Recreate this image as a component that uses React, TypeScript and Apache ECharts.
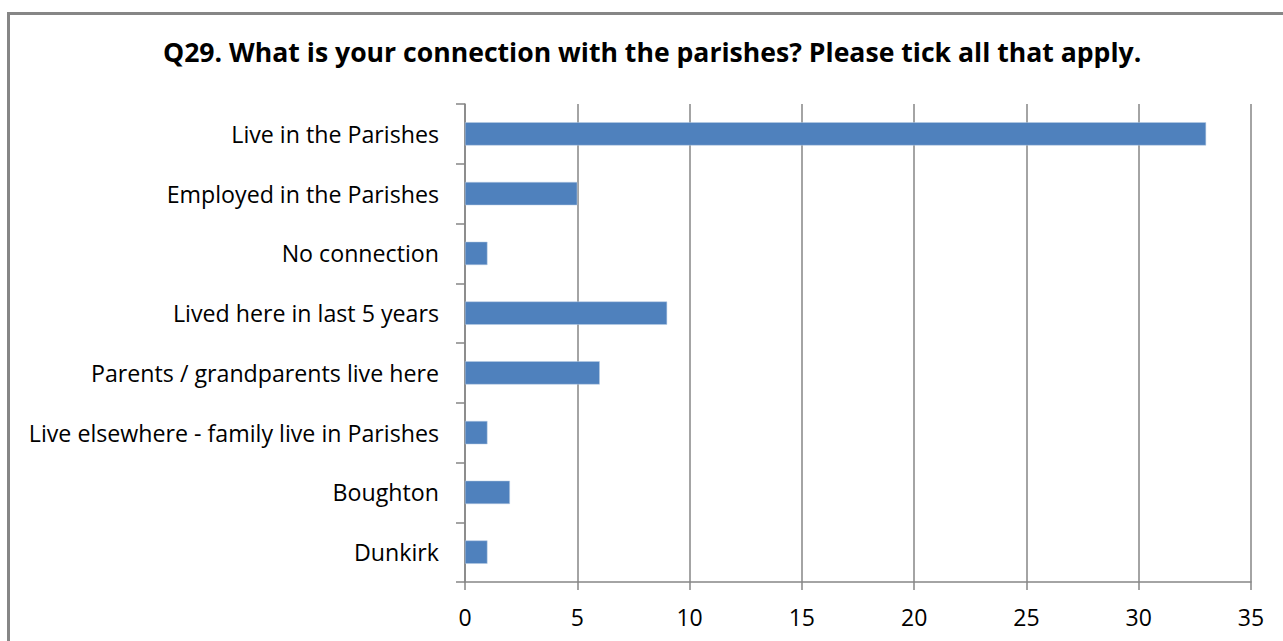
import React, { useEffect, useRef } from "react";
import * as echarts from "echarts";

// Survey responses for Q29 (multiple choice, tick all that apply)
const categories = [
  "Live in the Parishes",
  "Employed in the Parishes",
  "No connection",
  "Lived here in last 5 years",
  "Parents / grandparents live here",
  "Live elsewhere - family live in Parishes",
  "Boughton",
  "Dunkirk",
];
const responses = [33, 5, 1, 9, 6, 1, 2, 1];
const titleText = "Q29. What is your connection with the parishes? Please tick all that apply.";
const axisMax = 35;
const axisStep = 5;

const FONT = "'Open Sans', 'Noto Sans', sans-serif";
const GRAY = "#868686";

export default function App() {
  const ref = useRef<HTMLDivElement>(null);

  useEffect(() => {
    document.body.style.margin = "0";
    if (!ref.current) return;
    const chart = echarts.init(ref.current, undefined, { renderer: "svg" });
    chart.setOption({
      animation: false,
      backgroundColor: "#ffffff",
      title: {
        text: titleText,
        left: 163,
        top: 38,
        padding: 0,
        textStyle: {
          fontFamily: FONT,
          fontWeight: "bold",
          fontSize: 26.6,
          color: "#000000",
        },
      },
      graphic: [
        {
          type: "rect",
          shape: { x: 8.5, y: 13.5, width: 1400, height: 800 },
          style: { fill: "none", stroke: GRAY, lineWidth: 3 },
          silent: true,
        },
      ],
      grid: { left: 465, top: 104, right: 32, bottom: 59, containLabel: false },
      xAxis: {
        type: "value",
        min: 0,
        max: axisMax,
        interval: axisStep,
        axisLine: { show: true, lineStyle: { color: GRAY, width: 1.5 } },
        axisTick: { show: true, length: 8, lineStyle: { color: GRAY, width: 1.5 } },
        splitLine: { show: true, lineStyle: { color: GRAY, width: 1.5 } },
        axisLabel: { fontFamily: FONT, fontSize: 23, color: "#000000", margin: 23 },
      },
      yAxis: {
        type: "category",
        data: categories,
        inverse: true,
        axisLine: { show: true, lineStyle: { color: GRAY, width: 1.5 } },
        axisTick: { show: true, length: 9, lineStyle: { color: GRAY, width: 1.5 } },
        axisLabel: { fontFamily: FONT, fontSize: 23.2, color: "#000000", margin: 26 },
      },
      series: [
        {
          type: "bar",
          data: responses,
          barCategoryGap: "61%",
          itemStyle: { color: "#4F81BD", borderColor: "#B9CDE5", borderWidth: 0.5 },
        },
      ],
    });
    return () => chart.dispose();
  }, []);

  return <div ref={ref} style={{ width: 1283, height: 641 }} />;
}
